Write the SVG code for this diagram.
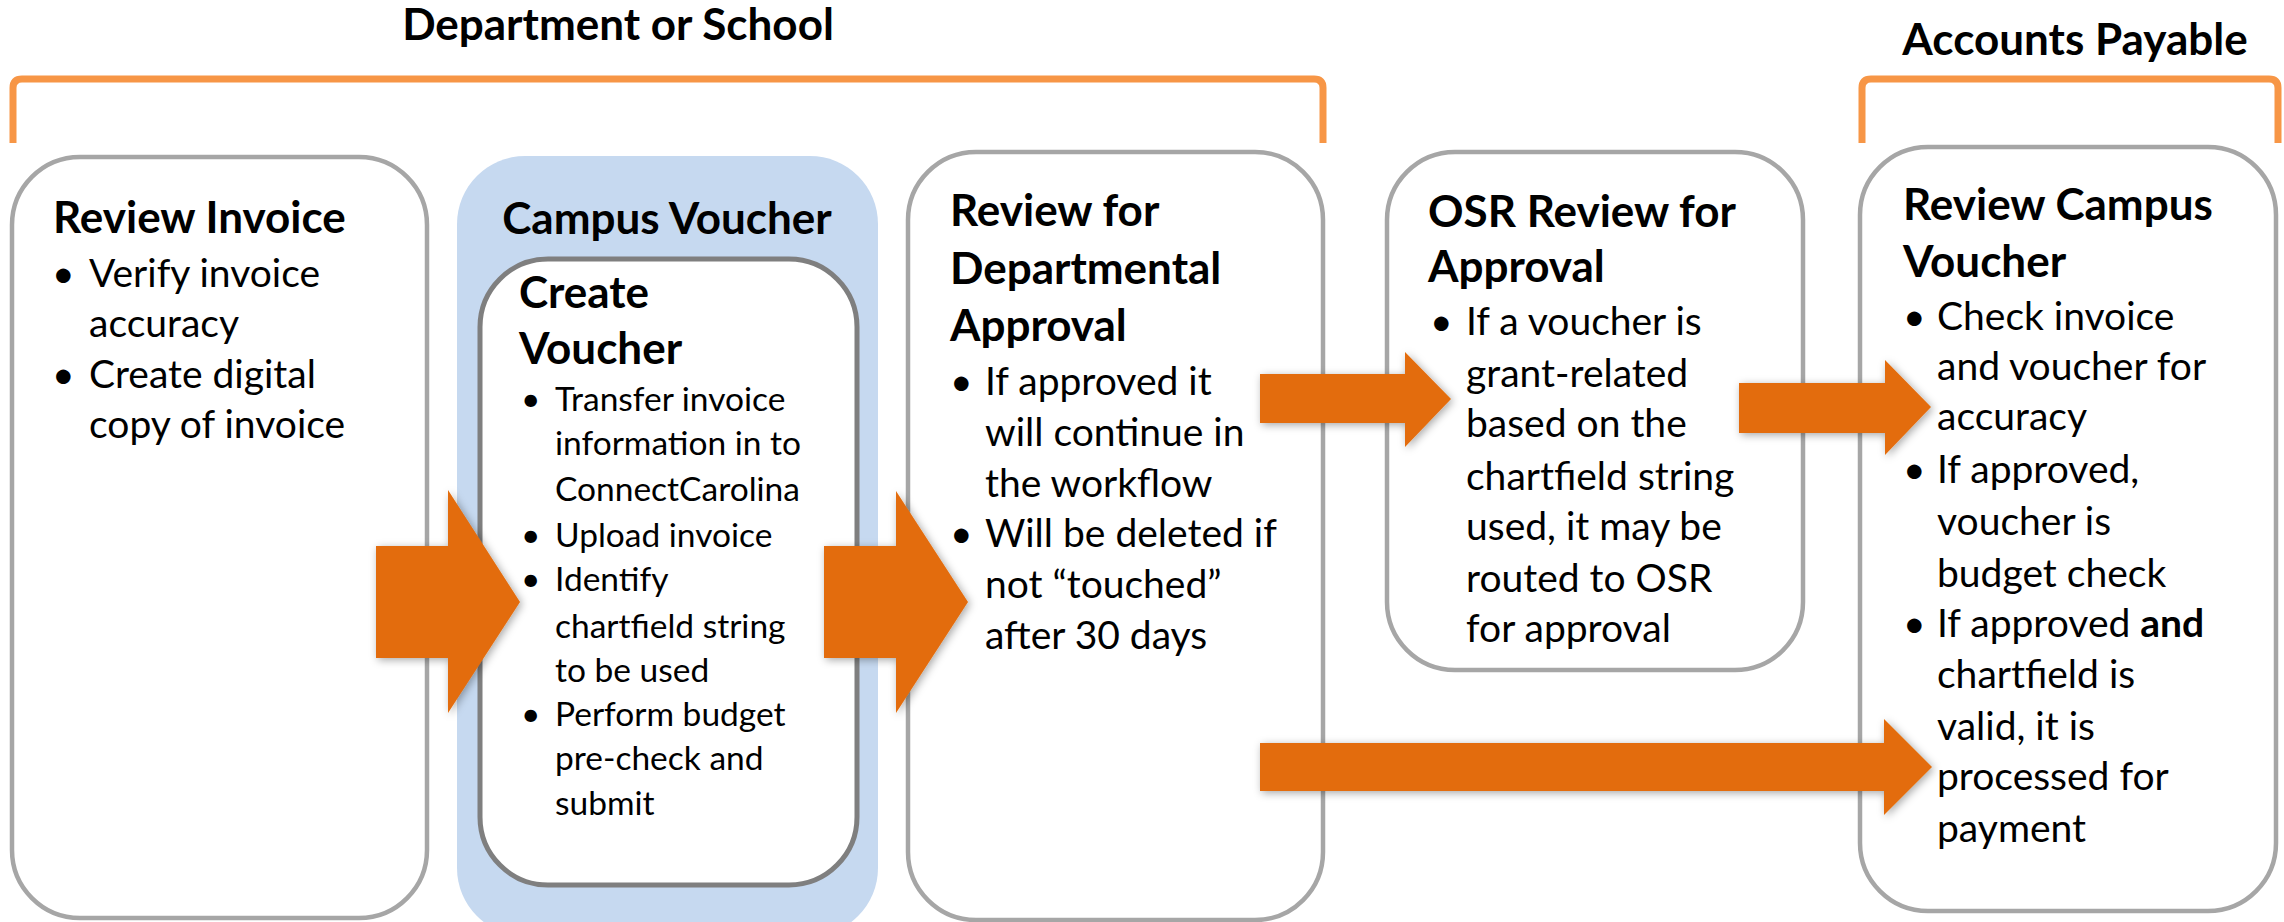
<svg xmlns="http://www.w3.org/2000/svg" width="2284" height="922" viewBox="0 0 2284 922">
<style>
text{font-family:Lato,"Liberation Sans",sans-serif;fill:#000}
.h{font-size:44px;font-weight:bold}
.t{font-size:39px}
.s{font-size:33.5px}
.box{fill:#fff;stroke:#A6A6A6;stroke-width:4.5}
.inner{fill:#fff;stroke:#7F7F7F;stroke-width:5}
.blue{fill:#C6D9F0}
.brk{fill:none;stroke:#F79646;stroke-width:7}
.arr{fill:#E36C0A;filter:url(#sh)}
</style>
<defs>
<filter id="sh" x="-20%" y="-30%" width="140%" height="160%">
<feDropShadow dx="2" dy="2" stdDeviation="4" flood-color="#000" flood-opacity="0.35"/>
</filter>
</defs>
<rect width="2284" height="922" fill="#fff"/>
<g id="brackets">
<path class="brk" d="M13,143 V88 Q13,79 22,79 H1314 Q1323,79 1323,88 V143"/>
<path class="brk" d="M1862,143 V88 Q1862,79 1871,79 H2269 Q2278,79 2278,88 V143"/>
<text class="h" x="618" y="40" text-anchor="middle">Department or School</text>
<text class="h" x="2075" y="55" text-anchor="middle">Accounts Payable</text>
</g>
<g id="review-invoice">
<rect class="box" x="12" y="157" width="415" height="761" rx="68"/>
<text class="h" x="53" y="233">Review Invoice</text>
<text class="t" x="52" y="287">•</text>
<text class="t" x="89" y="287">Verify invoice</text>
<text class="t" x="89" y="337">accuracy</text>
<text class="t" x="52" y="388">•</text>
<text class="t" x="89" y="388">Create digital</text>
<text class="t" x="89" y="438">copy of invoice</text>
</g>
<g id="campus-voucher">
<rect class="blue" x="457" y="156" width="421" height="780" rx="68"/>
<text class="h" x="667" y="234" text-anchor="middle">Campus Voucher</text>
</g>
<g id="create-voucher">
<rect class="inner" x="480" y="259" width="377" height="626" rx="68"/>
<text class="h" x="519" y="308">Create</text>
<text class="h" x="519" y="364">Voucher</text>
<text class="s" x="521" y="411">•</text>
<text class="s" x="555" y="411">Transfer invoice</text>
<text class="s" x="555" y="455">information in to</text>
<text class="s" x="555" y="501">ConnectCarolina</text>
<text class="s" x="521" y="547">•</text>
<text class="s" x="555" y="547">Upload invoice</text>
<text class="s" x="521" y="591">•</text>
<text class="s" x="555" y="591">Identify</text>
<text class="s" x="555" y="638">chartfield string</text>
<text class="s" x="555" y="682">to be used</text>
<text class="s" x="521" y="726">•</text>
<text class="s" x="555" y="726">Perform budget</text>
<text class="s" x="555" y="770">pre-check and</text>
<text class="s" x="555" y="815">submit</text>
</g>
<g id="departmental-approval">
<rect class="box" x="908" y="152" width="415" height="768" rx="68"/>
<text class="h" x="950" y="226">Review for</text>
<text class="h" x="950" y="284">Departmental</text>
<text class="h" x="950" y="341">Approval</text>
<text class="t" x="950" y="395">•</text>
<text class="t" x="985" y="395">If approved it</text>
<text class="t" x="985" y="446">will continue in</text>
<text class="t" x="985" y="497">the workflow</text>
<text class="t" x="950" y="547">•</text>
<text class="t" x="985" y="547">Will be deleted if</text>
<text class="t" x="985" y="598">not “touched”</text>
<text class="t" x="985" y="649">after 30 days</text>
</g>
<g id="osr-review">
<rect class="box" x="1387" y="152" width="416" height="518" rx="68"/>
<text class="h" x="1428" y="227">OSR Review for</text>
<text class="h" x="1428" y="282">Approval</text>
<text class="t" x="1430" y="335">•</text>
<text class="t" x="1466" y="335">If a voucher is</text>
<text class="t" x="1466" y="387">grant-related</text>
<text class="t" x="1466" y="437">based on the</text>
<text class="t" x="1466" y="490">chartfield string</text>
<text class="t" x="1466" y="540">used, it may be</text>
<text class="t" x="1466" y="592">routed to OSR</text>
<text class="t" x="1466" y="642">for approval</text>
</g>
<g id="review-campus-voucher">
<rect class="box" x="1860" y="147" width="416" height="764" rx="68"/>
<text class="h" x="1903" y="220">Review Campus</text>
<text class="h" x="1903" y="277">Voucher</text>
<text class="t" x="1903" y="330">•</text>
<text class="t" x="1937" y="330">Check invoice</text>
<text class="t" x="1937" y="380">and voucher for</text>
<text class="t" x="1937" y="430">accuracy</text>
<text class="t" x="1903" y="483">•</text>
<text class="t" x="1937" y="483">If approved,</text>
<text class="t" x="1937" y="535">voucher is</text>
<text class="t" x="1937" y="587">budget check</text>
<text class="t" x="1903" y="637">•</text>
<text class="t" x="1937" y="637">If approved <tspan font-weight="bold">and</tspan></text>
<text class="t" x="1937" y="688">chartfield is</text>
<text class="t" x="1937" y="740">valid, it is</text>
<text class="t" x="1937" y="790">processed for</text>
<text class="t" x="1937" y="842">payment</text>
</g>
<g id="connectors">
<polygon class="arr" points="376,546 448,546 448,490 520,602 448,713 448,658 376,658"/>
<polygon class="arr" points="824,546 896,546 896,491 968,602 896,713 896,658 824,658"/>
<polygon class="arr" points="1260,374 1405,374 1405,352 1451,399 1405,447 1405,423 1260,423"/>
<polygon class="arr" points="1739,383 1885,383 1885,360 1931,407 1885,455 1885,433 1739,433"/>
<polygon class="arr" points="1260,743 1884,743 1884,719 1932,767 1884,815 1884,791 1260,791"/>
</g>
</svg>
